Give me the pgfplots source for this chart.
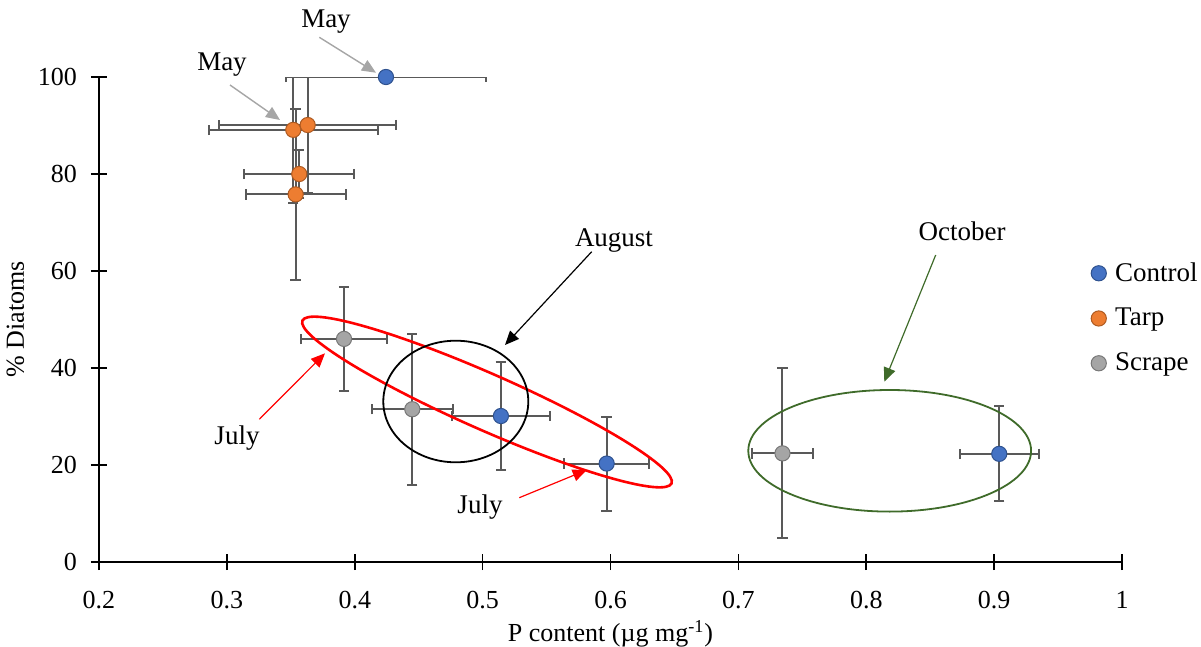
\documentclass[border=0pt]{standalone}
\usepackage{fontspec}
\setmainfont{Liberation Serif}
\usepackage{pgfplots}
\pgfplotsset{compat=1.18}
\usepackage{pgfplotstable}
\usetikzlibrary{arrows.meta}

\definecolor{ctrl}{HTML}{4472C4}
\definecolor{ctrlE}{HTML}{2F528F}
\definecolor{tarp}{HTML}{ED7D31}
\definecolor{tarpE}{HTML}{AE5A21}
\definecolor{scrp}{HTML}{A5A5A5}
\definecolor{scrpE}{HTML}{787878}
\definecolor{errc}{HTML}{595959}
\definecolor{octg}{HTML}{3F6B2A}
\definecolor{mayg}{HTML}{A6A6A6}

% x, y, x error, y error
\pgfplotstableread{
x      y      ex     ey
0.4244 100.0  0.078  0
0.5143 30.1   0.038  11.2
0.5970 20.3   0.033  9.7
0.9040 22.3   0.031  9.8
}\controldata
\pgfplotstableread{
x      y      ex     ey
0.3519 89.1   0.066  15.1
0.3632 90.1   0.069  14.1
0.3566 80.0   0.043  4.9
0.3538 75.8   0.039  17.7
}\tarpdata
\pgfplotstableread{
x      y      ex     ey
0.3916 46.0   0.0336 10.8
0.4450 31.5   0.0317 15.6
0.7345 22.4   0.0237 17.5
}\scrapedata

\begin{document}
\begin{tikzpicture}
\useasboundingbox (0,0) rectangle (600.5pt,-323.5pt);
\begin{axis}[
  at={(49.5pt,-281pt)}, anchor=south west,
  scale only axis, width=511.5pt, height=242.5pt,
  xmin=0.2, xmax=1, ymin=0, ymax=100,
  xtick={0.2,0.3,0.4,0.5,0.6,0.7,0.8,0.9,1},
  ytick={0,20,40,60,80,100},
  axis lines=left, axis line style={-, line width=0.9pt},
  tick align=center, major tick length=8pt,
  tick style={black, line width=0.8pt},
  /pgf/number format/assume math mode=true,
  /pgf/number format/fixed,
  ticklabel style={font=\fontsize{13}{15}\selectfont},
  xticklabel style={yshift=-7pt},
  yticklabel style={xshift=-3.5pt},
  xlabel={P content (µg mg\textsuperscript{-1})},
  ylabel={\% Diatoms},
  xlabel style={yshift=1pt},
  label style={font=\fontsize{13}{15}\selectfont},
  clip mode=individual,
  legend style={draw=none, fill=none, at={(0.9687,0.6268)}, anchor=north west,
    font=\fontsize{13.5}{16}\selectfont, row sep=8pt, inner sep=0pt},
  legend cell align=left,
  legend image code/.code={\draw[#1] plot coordinates {(4pt,0pt)}; \path (0pt,0pt) (10pt,0pt);},
  error bars/error bar style={errc, line width=1pt},
  error bars/error mark options={errc, line width=1pt, mark size=2.6pt, rotate=90},
]
\addplot[only marks, mark=*, mark size=3.8pt, mark options={fill=ctrl, draw=ctrlE, line width=0.5pt},
  error bars/.cd, x dir=both, x explicit, y dir=both, y explicit]
  table[x=x, y=y, x error=ex, y error=ey] {\controldata};
\addlegendentry{Control}
\addplot[only marks, mark=*, mark size=3.8pt, mark options={fill=tarp, draw=tarpE, line width=0.5pt},
  error bars/.cd, x dir=both, x explicit, y dir=both, y explicit]
  table[x=x, y=y, x error=ex, y error=ey] {\tarpdata};
\addlegendentry{Tarp}
\addplot[only marks, mark=*, mark size=3.8pt, mark options={fill=scrp, draw=scrpE, line width=0.5pt},
  error bars/.cd, x dir=both, x explicit, y dir=both, y explicit]
  table[x=x, y=y, x error=ex, y error=ey] {\scrapedata};
\addlegendentry{Scrape}
\end{axis}

% annotations, laid out in a top-left based grid of half points
\begin{scope}[x=0.5pt, y=-0.5pt, font=\fontsize{13.5}{16}\selectfont]
  % ellipses
  \draw[red, line width=1.3pt, rotate around={-23.8:(487,402)}]
    (487,402) ellipse [x radius=100.85pt, y radius=14pt];
  \draw[black, line width=0.9pt] (455.8,401.5) ellipse [x radius=36.25pt, y radius=30.4pt];
  \draw[octg, line width=0.9pt] (889.7,450.8) ellipse [x radius=70.7pt, y radius=30.4pt];
  % labels and arrows
  \node at (326,22) {May};
  \draw[mayg, line width=0.7pt, -{Triangle[length=7pt,width=6pt]}] (319.3,37.3) -- (376,72.7);
  \node at (222,65) {May};
  \draw[mayg, line width=0.7pt, -{Triangle[length=7pt,width=6pt]}] (230,85) -- (280,120);
  \node at (614,241) {August};
  \draw[black, line width=0.6pt, -{Triangle[length=7pt,width=6pt]}] (591.7,251.7) -- (505,345);
  \node at (962,231) {October};
  \draw[octg, line width=0.6pt, -{Triangle[length=7pt,width=6pt]}] (935.7,255) -- (884.3,381.7);
  \node at (237,438) {July};
  \draw[red, line width=0.6pt, -{Triangle[length=7pt,width=6pt]}] (259.3,419.3) -- (325,353.3);
  \node at (480,507) {July};
  \draw[red, line width=0.6pt, -{Triangle[length=7pt,width=6pt]}] (519.3,497.7) -- (586.7,470);
\end{scope}
\end{tikzpicture}
\end{document}
